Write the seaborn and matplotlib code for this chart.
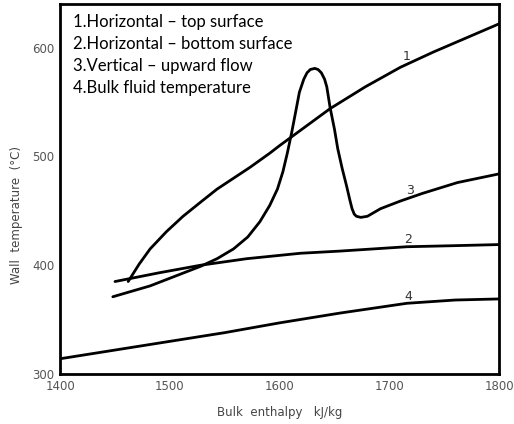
import matplotlib
matplotlib.use("Agg")
import matplotlib.pyplot as plt
import seaborn as sns
import pandas as pd

# Curve 1: Horizontal - top surface
c1_x = [1462, 1472, 1482, 1497, 1512, 1528, 1543, 1558, 1573, 1591, 1600, 1623, 1646, 1678, 1710, 1740, 1770, 1800]
c1_y = [385, 401, 415, 431, 445, 458, 470, 480, 490, 503, 510, 527, 544, 564, 582, 596, 609, 622]
# Curve 2: Horizontal - bottom surface
c2_x = [1450, 1490, 1528, 1570, 1619, 1655, 1716, 1760, 1800]
c2_y = [385, 393, 400, 406, 411, 413, 417, 418, 419]
# Curve 3: Vertical - upward flow
c3_x = [1448, 1465, 1482, 1505, 1528, 1543, 1558, 1571, 1582, 1591, 1598, 1603, 1607, 1611, 1615, 1618, 1622, 1625, 1628, 1632, 1635, 1638, 1641, 1643, 1646, 1650, 1653, 1657, 1661, 1664, 1666, 1668, 1670, 1674, 1680, 1692, 1710, 1730, 1762, 1800]
c3_y = [371, 376, 381, 390, 399, 406, 415, 426, 440, 455, 470, 486, 503, 522, 543, 559, 571, 577, 580, 581, 580, 577, 571, 564, 545, 525, 507, 489, 473, 460, 452, 447, 445, 444, 445, 452, 459, 466, 476, 484]
# Curve 4: Bulk fluid temperature
c4_x = [1400, 1450, 1500, 1550, 1600, 1655, 1716, 1760, 1800]
c4_y = [314, 322, 330, 338, 347, 356, 365, 368, 369]

legend_lines = ["1.Horizontal \u2013 top surface",
                "2.Horizontal \u2013 bottom surface",
                "3.Vertical \u2013 upward flow",
                "4.Bulk fluid temperature"]
curve_labels = ["1", "2", "3", "4"]
label_pos_x = [1716, 1717, 1719, 1717]
label_pos_y = [592, 424, 469, 371]

x_ticks = [1400, 1500, 1600, 1700, 1800]
y_ticks = [300, 400, 500, 600]

sns.set_theme(style="white")
plt.rcParams['font.family'] = ['DejaVu Sans']

fig = plt.figure(figsize=(5.14, 4.24), dpi=100)
ax = fig.add_axes([0.117, 0.118, 0.854, 0.872])

for xs, ys in [(c1_x, c1_y), (c2_x, c2_y), (c3_x, c3_y), (c4_x, c4_y)]:
    df = pd.DataFrame({"x": xs, "y": ys})
    sns.lineplot(data=df, x="x", y="y", ax=ax, color="black", linewidth=2.0,
                 estimator=None, sort=False)

for lab, lx, ly in zip(curve_labels, label_pos_x, label_pos_y):
    ax.text(lx, ly, lab, fontsize=9, color="#333333", ha="center", va="center")

ax.set_xlim(1400, 1800)
ax.set_ylim(300, 640)
ax.set_xticks(x_ticks)
ax.set_yticks(y_ticks)
ax.set_xticklabels([str(v) for v in x_ticks], fontsize=8.5, color="#555555")
ax.set_yticklabels([str(v) for v in y_ticks], fontsize=8.5, color="#555555")
ax.tick_params(axis="x", direction="in", length=5, width=1.5, pad=4, color="black")
ax.tick_params(axis="y", direction="out", length=3, width=1.5, pad=1, color="black")
for s in ax.spines.values():
    s.set_color("black")
    s.set_linewidth(2.0)

ax.set_xlabel("Bulk  enthalpy   kJ/kg", fontsize=8.5, color="#444444", labelpad=10)
ax.set_ylabel("Wall  temperature  (\u00b0C)", fontsize=8.5, color="#444444", labelpad=1)
ax.yaxis.set_label_coords(-0.085, 0.43)

for i, t in enumerate(legend_lines):
    ax.text(0.03, 0.953 - i * 0.0595, t, transform=ax.transAxes, fontsize=12,
            family=["Lato", "DejaVu Sans"], color="black", ha="left", va="center")

fig.savefig("out.png", dpi=100)
